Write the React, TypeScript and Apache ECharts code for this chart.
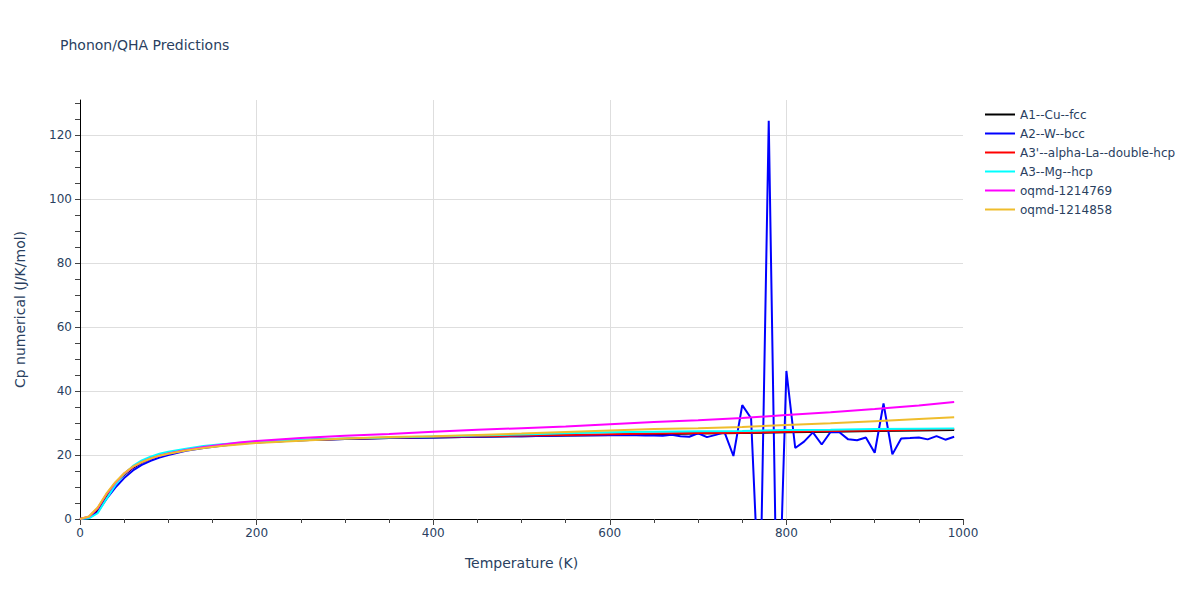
import React, { useEffect, useRef } from "react";
import * as echarts from "echarts";

const tempsSmooth = [0, 10, 20, 30, 40, 50, 60, 70, 80, 90, 100, 120, 140, 160, 180, 200, 250, 300, 350, 400, 450, 500, 550, 600, 650, 700, 750, 800, 850, 900, 950, 990];

const cuFcc = [0, 0.4, 2.8, 7.2, 10.9, 13.8, 16.0, 17.6, 18.8, 19.8, 20.5, 21.7, 22.5, 23.1, 23.6, 24.0, 24.6, 25.0, 25.3, 25.5, 25.7, 25.9, 26.1, 26.3, 26.5, 26.7, 26.9, 27.1, 27.3, 27.5, 27.7, 27.8];
const laDhcp = [0, 0.6, 3.2, 7.6, 11.2, 14.1, 16.3, 17.9, 19.0, 19.9, 20.6, 21.7, 22.5, 23.1, 23.6, 24.0, 24.7, 25.1, 25.4, 25.7, 25.9, 26.1, 26.3, 26.5, 26.7, 26.9, 27.0, 27.3, 27.5, 27.7, 27.9, 28.1];
const mgHcp = [0, 0.2, 1.8, 6.3, 10.6, 14.0, 16.6, 18.3, 19.5, 20.4, 21.0, 22.0, 22.8, 23.4, 23.8, 24.2, 24.8, 25.2, 25.5, 25.8, 26.1, 26.4, 26.8, 27.1, 27.3, 27.4, 27.5, 27.8, 27.9, 28.1, 28.2, 28.3];
const oqmd1214769 = [0, 0.7, 3.4, 7.8, 11.3, 14.2, 16.3, 17.8, 18.9, 19.8, 20.5, 21.6, 22.5, 23.2, 23.9, 24.4, 25.3, 26.0, 26.6, 27.3, 27.9, 28.4, 28.9, 29.6, 30.3, 30.9, 31.6, 32.5, 33.4, 34.4, 35.5, 36.6];
const oqmd1214858 = [0, 0.8, 3.6, 8.0, 11.5, 14.3, 16.4, 17.8, 18.9, 19.8, 20.4, 21.4, 22.2, 22.8, 23.3, 23.8, 24.5, 25.2, 25.6, 25.9, 26.3, 26.7, 27.2, 27.7, 28.1, 28.4, 28.8, 29.4, 29.9, 30.6, 31.3, 31.8];

const tempsW = [0, 10, 20, 30, 40, 50, 60, 70, 80, 90, 100, 120, 140, 160, 180, 200, 250, 300, 350, 400, 450, 500, 550, 600,
  610, 620, 630, 640, 650, 660, 670, 680, 690, 700, 710, 720, 730, 740, 750, 760, 770, 780, 790, 800,
  810, 820, 830, 840, 850, 860, 870, 880, 890, 900, 910, 920, 930, 940, 950, 960, 970, 980, 990];
const wBcc = [0, 0.3, 2.2, 6.3, 9.8, 12.8, 15.2, 16.9, 18.2, 19.2, 20.0, 21.3, 22.2, 22.9, 23.5, 23.9, 24.6, 25.0, 25.3, 25.5, 25.7, 25.9, 26.1, 26.2,
  26.3, 26.2, 26.2, 26.1, 26.1, 26.0, 26.3, 25.9, 25.7, 26.8, 25.6, 26.3, 27.1, 19.7, 35.6, 31.5, -31, 124.5, -45, 46.3,
  22.2, 24.2, 27.1, 23.3, 27.2, 27.1, 24.9, 24.6, 25.5, 20.7, 36.1, 20.2, 25.2, 25.3, 25.5, 24.9, 25.9, 24.8, 25.7];

const seriesNames = ["A1--Cu--fcc", "A2--W--bcc", "A3'--alpha-La--double-hcp", "A3--Mg--hcp", "oqmd-1214769", "oqmd-1214858"];
const seriesColors = ["#000000", "#0000ff", "#ff0000", "#00ffff", "#ff00ff", "#efbd2c"];
const seriesTemps = [tempsSmooth, tempsW, tempsSmooth, tempsSmooth, tempsSmooth, tempsSmooth];
const seriesValues = [cuFcc, wBcc, laDhcp, mgHcp, oqmd1214769, oqmd1214858];

const xTickLabels = [0, 200, 400, 600, 800, 1000];
const yTickLabels = [0, 20, 40, 60, 80, 100, 120];

const FONT = "'DejaVu Sans', Verdana, sans-serif";
const TEXT = "#2a3f5f";
const GRID = "#dedede";

export default function App() {
  const ref = useRef<HTMLDivElement>(null);
  useEffect(() => {
    if (!ref.current) return;
    const chart = echarts.init(ref.current, null, { renderer: "svg" });
    const ySplitColors = [GRID, "transparent", "transparent", "transparent"];
    const option: any = {
      animation: false,
      backgroundColor: "#ffffff",
      textStyle: { fontFamily: FONT },
      title: {
        text: "Phonon/QHA Predictions",
        left: 60,
        top: 38,
        padding: 0,
        textStyle: { fontFamily: FONT, fontSize: 14, fontWeight: "normal", color: TEXT },
      },
      legend: {
        orient: "vertical",
        left: 985,
        top: 105,
        padding: 0,
        icon: "rect",
        itemWidth: 30,
        itemHeight: 2,
        itemGap: 0,
        textStyle: { fontFamily: FONT, fontSize: 12, color: TEXT, lineHeight: 19 },
        data: seriesNames,
      },
      grid: { left: 80, right: 237, top: 100, bottom: 81, containLabel: false },
      xAxis: {
        type: "value",
        min: 0,
        max: 1000,
        interval: 200,
        name: "Temperature (K)",
        nameLocation: "middle",
        nameGap: 37,
        nameTextStyle: { fontFamily: FONT, fontSize: 14, color: TEXT },
        axisLine: { show: true, onZero: false, lineStyle: { color: "#000", width: 1 } },
        axisTick: { show: true, length: 6, lineStyle: { color: "#444" } },
        minorTick: { show: true, splitNumber: 4, length: 4, lineStyle: { color: "#444" } },
        axisLabel: {
          fontFamily: FONT,
          fontSize: 12,
          color: TEXT,
          margin: 8,
          formatter: (v: number) => (xTickLabels.includes(v) ? String(v) : ""),
        },
        splitLine: {
          show: true,
          lineStyle: { color: ["transparent", GRID, GRID, GRID, GRID, "transparent"], width: 1 },
        },
      },
      yAxis: {
        type: "value",
        min: 0,
        max: 131,
        interval: 5,
        name: "Cp numerical (J/K/mol)",
        nameLocation: "middle",
        nameGap: 53,
        nameTextStyle: { fontFamily: FONT, fontSize: 14, color: TEXT },
        axisLine: { show: true, onZero: false, lineStyle: { color: "#000", width: 1 } },
        axisTick: { show: true, length: 5, lineStyle: { color: "#444" } },
        axisLabel: {
          fontFamily: FONT,
          fontSize: 12,
          color: TEXT,
          margin: 8,
          showMaxLabel: false,
          formatter: (v: number) => (yTickLabels.includes(v) ? String(v) : ""),
        },
        splitLine: { show: true, lineStyle: { color: ySplitColors, width: 1 } },
      },
      series: seriesNames.map((name, i) => ({
        name,
        type: "line",
        data: seriesTemps[i].map((t, j) => [t, seriesValues[i][j]]),
        showSymbol: false,
        symbol: "none",
        clip: true,
        color: seriesColors[i],
        lineStyle: { color: seriesColors[i], width: 2 },
        z: 2 + i,
      })),
    };
    chart.setOption(option);
    return () => chart.dispose();
  }, []);
  return <div ref={ref} style={{ width: 1200, height: 600, position: "absolute", left: 0, top: 0 }} />;
}
